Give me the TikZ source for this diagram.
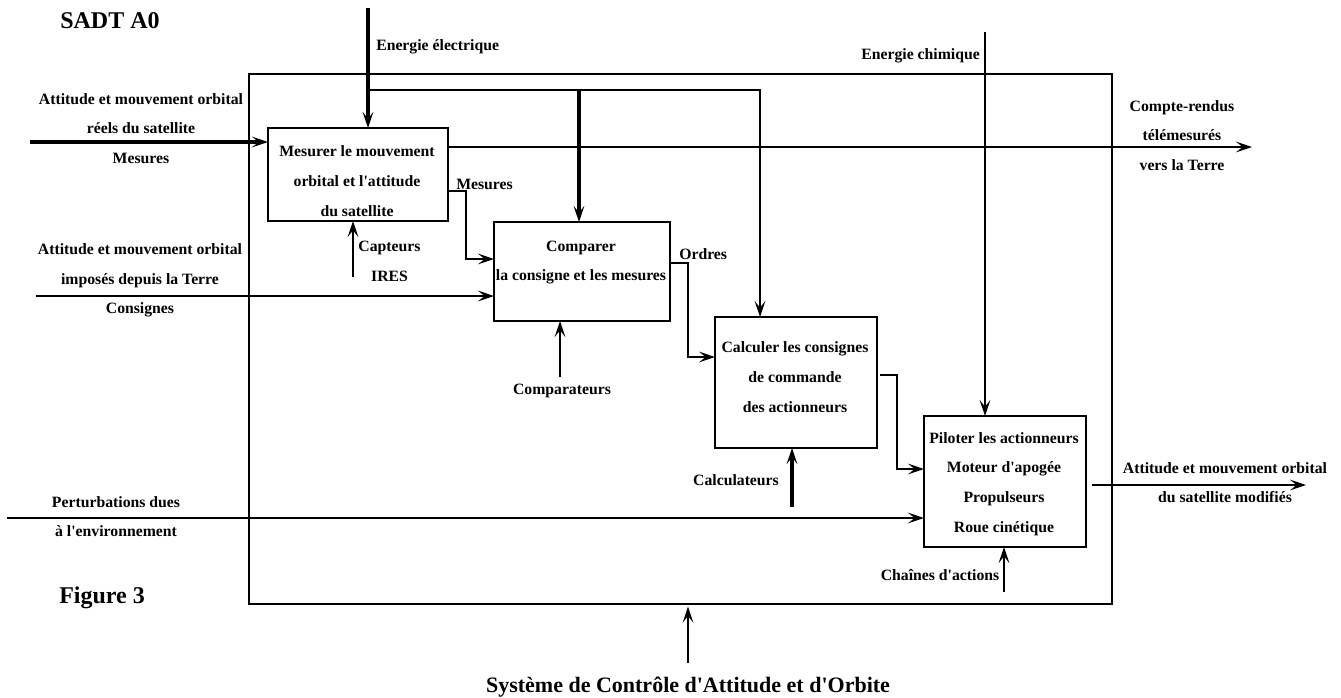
\documentclass[tikz,border=0pt]{standalone}
\usepackage{fontspec}
\setmainfont{Liberation Serif}
\usetikzlibrary{arrows.meta}
\newcommand{\qs}{\textquotesingle}
\begin{document}
\begin{tikzpicture}[x=0.75pt,y=-0.75pt,
  lbl/.style={font=\fontsize{11.8}{22.3}\selectfont\bfseries, align=center, inner sep=0pt},
  big/.style={font=\fontsize{18}{20}\selectfont\bfseries, inner sep=0pt},
  box/.style={draw, line width=1.1pt, inner sep=0pt, outer sep=0pt},
  arr/.style={-{Stealth[length=12pt,width=8pt,inset=5pt]}},
  lwa/.style={line width=1.3pt},
  lwb/.style={line width=1.8pt},
  lwc/.style={line width=2.5pt}]
\useasboundingbox (0,0) rectangle (1341,697);

% boxes
\node[box, minimum width=647.25pt, minimum height=397.5pt] (outer) at (680.5,339) {};
\node[box, minimum width=135pt, minimum height=69.75pt] (b1) at (358,174.5) {};
\node[box, minimum width=132pt, minimum height=74.25pt] (b2) at (582,271.5) {};
\node[box, minimum width=121.5pt, minimum height=98.25pt] (b3) at (796,382.5) {};
\node[box, minimum width=121.5pt, minimum height=98.25pt] (b4) at (1005,481.5) {};

% box texts
\node[lbl] (t1) at (357,181) {Mesurer le mouvement\\orbital et l\qs attitude\\du satellite};
\node[lbl] (t2) at (581,262.5) {Comparer\\la consigne et les mesures};
\node[lbl] (t3) at (795,377) {Calculer les consignes\\de commande\\des actionneurs};
\node[lbl] (t4) at (1004,484) {Piloter les actionneurs\\Moteur d\qs apogée\\Propulseurs\\Roue cinétique};

% titles
\node[big, anchor=base west] (sadt) at (60,28) {SADT A0};
\node[big, anchor=base west] (fig) at (59,603) {Figure 3};
\node[font=\fontsize{16.5}{20}\selectfont\bfseries, inner sep=0pt, anchor=base] (sys) at (688,692) {Système de Contrôle d\qs Attitude et d\qs Orbite};

% labels
\node[lbl, anchor=west] (lee) at (376,47) {Energie électrique};
\node[lbl, anchor=east] (lec) at (980,56) {Energie chimique};
\node[lbl] (lin1) at (141,128.5) {Attitude et mouvement orbital\\réels du satellite\\Mesures};
\node[lbl] (lcr) at (1182,135.5) {Compte-rendus\\télémesurés\\vers la Terre};
\node[lbl, anchor=west] (lmes) at (456,184) {Mesures};
\node[lbl] (lcap) at (389.5,261.5) {Capteurs\\IRES};
\node[lbl] (lin2) at (140,280.5) {Attitude et mouvement orbital\\imposés depuis la Terre\\Consignes};
\node[lbl, anchor=west] (lord) at (679,254) {Ordres};
\node[lbl] (lcmp) at (562,391) {Comparateurs};
\node[lbl] (lcalc) at (736,480) {Calculateurs};
\node[lbl] (lpert) at (116,516.5) {Perturbations dues\\à l\qs environnement};
\node[lbl] (lch) at (940,575) {Chaînes d\qs actions};
\node[lbl] (lout) at (1225,482.5) {Attitude et mouvement orbital\\du satellite modifiés};

% coordinates for free ends and bends
\coordinate (ee) at (368,8);
\coordinate (j1) at (368,90);
\coordinate (j2) at (579,90);
\coordinate (j3) at (760,90);
\coordinate (ec) at (985,32);
\coordinate (cr) at (1252,147);
\coordinate (in1) at (30,142);
\coordinate (m1) at (466,191);
\coordinate (m2) at (466,259);
\coordinate (cap) at (353,277);
\coordinate (in2) at (36,296);
\coordinate (cmp) at (560,377);
\coordinate (o1) at (688,263);
\coordinate (o2) at (688,357);
\coordinate (c1) at (897,375);
\coordinate (c2) at (897,469);
\coordinate (calc) at (792,507);
\coordinate (pert) at (7,518);
\coordinate (ch) at (1004,592);
\coordinate (out) at (1306,485);
\coordinate (sysa) at (688,663);

% connectors
\draw[lwc, arr] (ee) -- (ee |- b1.north);
\draw[lwa, arr] (j1) -- (j3) -- (j3 |- b3.north);
\draw[lwc, arr] (j2) -- (j2 |- b2.north);
\draw[lwa, arr] (ec) -- (ec |- b4.north);
\draw[lwb, arr] (cr -| b1.east) -- (cr);
\draw[lwc, arr] (in1) -- (in1 -| b1.west);
\draw[lwa, arr] (m1 -| b1.east) -- (m1) -- (m2) -- (m2 -| b2.west);
\draw[lwb, arr] (cap) -- (cap |- b1.south);
\draw[lwb, arr] (in2) -- (in2 -| b2.west);
\draw[lwb, arr] (cmp) -- (cmp |- b2.south);
\draw[lwa, arr] (o1 -| b2.east) -- (o1) -- (o2) -- (o2 -| b3.west);
\draw[lwa, arr, shorten <=2pt] (c1 -| b3.east) -- (c1) -- (c2) -- (c2 -| b4.west);
\draw[lwc, arr] (calc) -- (calc |- b3.south);
\draw[lwb, arr] (pert) -- (pert -| b4.west);
\draw[lwb, arr] (ch) -- (ch |- b4.south);
\draw[lwb, arr, shorten <=4.5pt] (out -| b4.east) -- (out);
\draw[lwa, arr, shorten >=2pt] (sysa) -- (sysa |- outer.south);
\end{tikzpicture}
\end{document}
